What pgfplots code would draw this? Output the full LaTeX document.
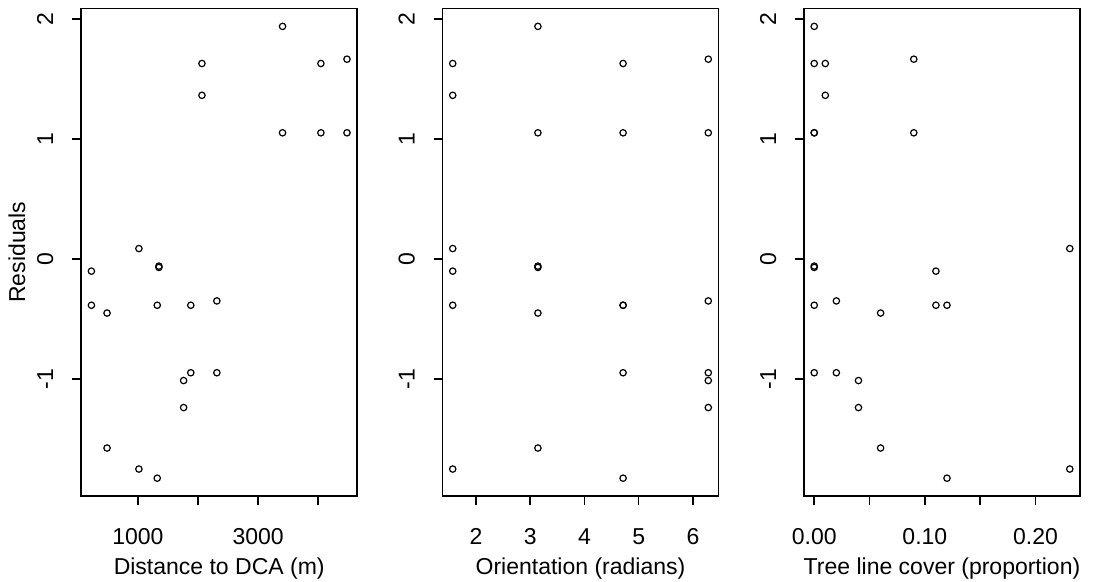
\documentclass[border=0pt]{standalone}
\usepackage{pgfplots}
\pgfplotsset{compat=1.18}
\usepackage{pgfplotstable}
\usepackage{fontspec}
\setmainfont{Liberation Sans}

\pgfplotstableread{
dist orient cover res
227 1.5708 0.11 -0.101
227 1.5708 0.11 -0.385
487 3.1416 0.06 -0.450
487 3.1416 0.06 -1.574
1017 1.5708 0.231 0.087
1017 1.5708 0.231 -1.749
1322 4.7124 0.12 -0.385
1322 4.7124 0.12 -1.825
1350 3.1416 0 -0.059
1350 3.1416 0 -0.070
1761 6.2832 0.04 -1.012
1761 6.2832 0.04 -1.237
1880 4.7124 0 -0.385
1880 4.7124 0 -0.947
2066 1.5708 0.01 1.628
2066 1.5708 0.01 1.363
2314 6.2832 0.02 -0.349
2314 6.2832 0.02 -0.947
3407 3.1416 0 1.937
3407 3.1416 0 1.051
4045 4.7124 0 1.628
4045 4.7124 0 1.051
4479 6.2832 0.09 1.664
4479 6.2832 0.09 1.051
}\resid

\pgfplotsset{
  rpanel/.style={
    scale only axis, width=138pt, height=243.9pt,
    anchor=south west,
    ymin=-1.975, ymax=2.087,
    ytick={-1,0,1,2}, yticklabels={-1,0,1,2},
    axis line style={line width=0.75pt},
    tick style={line width=0.75pt, black},
    tick align=outside, major tick length=4.5pt,
    xtick pos=bottom, ytick pos=left,
    /pgf/number format/assume math mode=true,
    font=\fontsize{11.5}{13}\selectfont,
    ticklabel style={font=\fontsize{11.5}{13}\selectfont},
    yticklabel style={rotate=90, anchor=base, inner sep=0pt, yshift=9.5pt},
    xticklabel style={anchor=base, inner sep=0pt, yshift=-19.9pt},
    every axis x label/.style={at={(axis description cs:0.5,0)}, anchor=base, yshift=-39pt},
    every axis y label/.style={at={(axis description cs:0,0.5)}, rotate=90, anchor=base, yshift=28pt},
  },
  rmarks/.style={only marks, mark=o, mark size=1.6pt, line width=0.6pt, black},
}

\begin{document}
\begin{tikzpicture}
\path[use as bounding box] (0,0) rectangle (551.5pt,291pt);

\begin{axis}[rpanel, at={(40.6pt,42.9pt)},
  xmin=57, xmax=4649,
  xtick={1000,2000,3000,4000}, xticklabels={1000,,3000,},
  xlabel={Distance to DCA (m)}, ylabel={Residuals}]
\addplot[rmarks] table[x=dist, y=res] {\resid};
\end{axis}

\begin{axis}[rpanel, at={(221.25pt,42.9pt)},
  xmin=1.3823, xmax=6.4717,
  xtick={2,3,4,5,6}, xticklabels={2,3,4,5,6},
  xlabel={Orientation (radians)}]
\addplot[rmarks] table[x=orient, y=res] {\resid};
\end{axis}

\begin{axis}[rpanel, at={(402pt,42.9pt)},
  xmin=-0.00924, xmax=0.24024,
  xtick={0,0.05,0.10,0.15,0.20}, xticklabels={0.00,,0.10,,0.20},
  xlabel={Tree line cover (proportion)}]
\addplot[rmarks] table[x=cover, y=res] {\resid};
\end{axis}
\end{tikzpicture}
\end{document}
